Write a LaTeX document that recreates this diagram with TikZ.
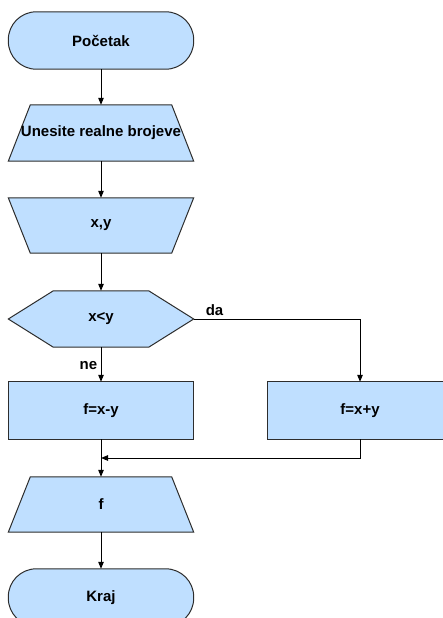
\documentclass[tikz,border=0pt]{standalone}
\usepackage{fontspec}
\setmainfont{Liberation Sans}
\usetikzlibrary{arrows.meta,backgrounds}
\definecolor{boxblue}{RGB}{191,223,255}
\definecolor{boxline}{RGB}{45,45,45}
\tikzset{
  lbl/.style={font=\bfseries\fontsize{15}{18}\selectfont, text=black, inner sep=0pt},
  holder/.style={lbl, shape=rectangle, minimum width=185pt, minimum height=#1, inner sep=0pt},
  shp/.style={fill=boxblue, draw=boxline, line width=1pt},
  conn/.style={draw=black, line width=1pt, -{Triangle[length=7pt,width=5.5pt]}},
  plain/.style={draw=black, line width=1pt},
}
\begin{document}
\begin{tikzpicture}[x=1pt,y=-1pt]
\clip (0,0) rectangle (443,618);
% nodes (text holders)
\node[holder=57pt] (start) at (101,40.5) {Početak};
\node[holder=56pt] (input) at (101,133) {Unesite realne brojeve};
\node[holder=55pt] (read) at (101,225.5) {x,y};
\node[holder=56pt] (dec) at (101,319) {x<y};
\node[holder=57pt] (minus) at (101,410.5) {f=x-y};
\node[holder=57pt] (plus) at (360,410.5) {f=x+y};
\node[holder=55pt] (out) at (101,504.5) {f};
\node[holder=57pt] (stop) at (101,597.5) {Kraj};
\coordinate (merge) at (101,458);
% outlines
\begin{scope}[on background layer]
\path[shp, rounded corners=28pt] (start.north west) rectangle (start.south east);
\path[shp] ([xshift=22pt]input.north west) -- ([xshift=-22pt]input.north east)
   -- (input.south east) -- (input.south west) -- cycle;
\path[shp] (read.north west) -- (read.north east)
   -- ([xshift=-22pt]read.south east) -- ([xshift=22pt]read.south west) -- cycle;
\path[shp] (dec.west) -- ([xshift=45pt]dec.north west) -- ([xshift=-45pt]dec.north east)
   -- (dec.east) -- ([xshift=-45pt]dec.south east) -- ([xshift=45pt]dec.south west) -- cycle;
\path[shp] (minus.north west) rectangle (minus.south east);
\path[shp] (plus.north west) rectangle (plus.south east);
\path[shp] ([xshift=22pt]out.north west) -- ([xshift=-22pt]out.north east)
   -- (out.south east) -- (out.south west) -- cycle;
\path[shp, rounded corners=28pt] (stop.north west) rectangle (stop.south east);
\end{scope}
% connectors
\draw[conn] (start.south) -- (input.north);
\draw[conn] (input.south) -- (read.north);
\draw[conn] (read.south) -- (dec.north);
\draw[conn] (dec.south) -- (minus.north);
\draw[conn] (dec.east) -| (plus.north);
\draw[plain] (minus.south) -- (merge);
\draw[conn] (plus.south) |- (merge);
\draw[conn] (merge) -- (out.north);
\draw[conn] (out.south) -- (stop.north);
% branch labels
\node[lbl] (da) at (214.5,310) {da};
\node[lbl] (ne) at (88.5,366) {ne};
\end{tikzpicture}
\end{document}
